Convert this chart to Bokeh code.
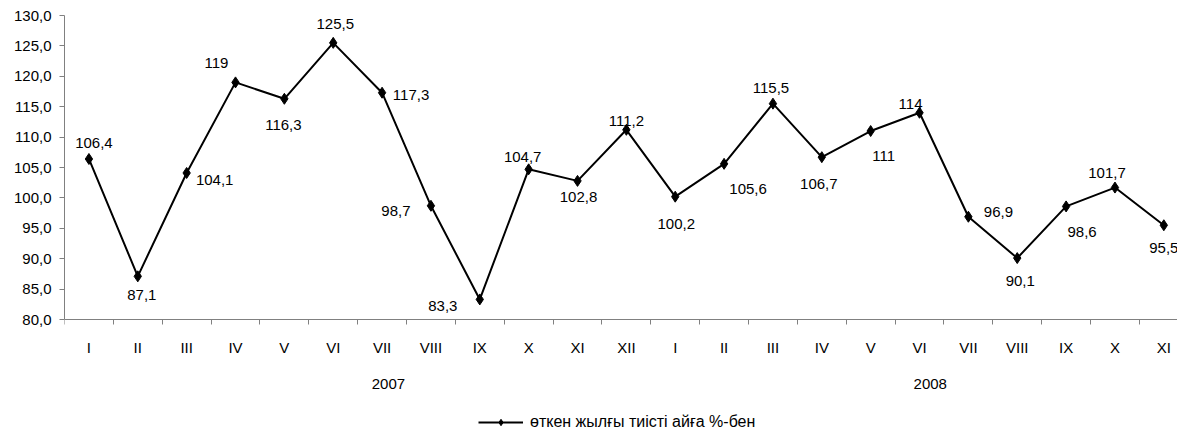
from bokeh.plotting import figure
from bokeh.models import (Range1d, FixedTicker, LinearAxis, Legend, LegendItem,
                          ColumnDataSource)
from bokeh.core.properties import value
from bokeh.embed import file_html
from bokeh.resources import INLINE

# ---- data ----
months = ["I", "II", "III", "IV", "V", "VI", "VII", "VIII", "IX", "X", "XI", "XII",
          "I", "II", "III", "IV", "V", "VI", "VII", "VIII", "IX", "X", "XI"]
values = [106.4, 87.1, 104.1, 119.0, 116.3, 125.5, 117.3, 98.7, 83.3, 104.7, 102.8, 111.2,
          100.2, 105.6, 115.5, 106.7, 111.0, 114.0, 96.9, 90.1, 98.6, 101.7, 95.5]
years = ["2007", "2008"]
series_name = "өткен жылғы тиісті айға %-бен"

# ---- layout helpers (label placement, px) ----
label_dx = [5, 4, 28, -19, -1, 2, 29, -35, -37, -6, 1, 0, 1, 24, -2, -3, 13, -9, 30, 3, 16, -8, 0]
label_dy = [-16, 19, 7, -19, 26, -19, 2, 5, 7, -12, 16, -9, 27, 25, -16, 27, 25, -9, -5, 23, 26, -15, 23]
year_pos = [6.63, 17.72]

FONT = "Liberation Sans"
FS = "15px"
AXIS_COLOR = "#808080"
Y_MIN, Y_MAX = 80, 130
PX_PER_UNIT = 304 / (Y_MAX - Y_MIN)
BELOW_PX = 115  # frame extends below the value axis to hold the legend

xs = [i + 0.5 for i in range(len(values))]
labels = [f"{v:g}".replace(".", ",") for v in values]

src = ColumnDataSource(dict(x=xs, y=values, lab=labels, dx=label_dx, dy=label_dy))

p = figure(frame_width=1113, frame_height=304 + BELOW_PX, output_backend="svg",
           toolbar_location=None,
           x_range=Range1d(0, 22.78),
           y_range=Range1d(Y_MIN - BELOW_PX / PX_PER_UNIT, Y_MAX),
           min_border_left=64, min_border_right=0, min_border_top=15, min_border_bottom=0,
           x_axis_type=None, y_axis_type=None)
p.outline_line_color = None
p.xgrid.visible = False
p.ygrid.visible = False
p.background_fill_color = "white"
p.border_fill_color = "white"

# y axis
yax = LinearAxis(ticker=FixedTicker(ticks=list(range(Y_MIN, Y_MAX + 1, 5))), bounds=(Y_MIN, Y_MAX))
yax.major_label_overrides = {t: f"{t:.1f}".replace(".", ",") for t in range(Y_MIN, Y_MAX + 1, 5)}
yax.axis_line_color = AXIS_COLOR
yax.major_tick_line_color = AXIS_COLOR
yax.major_tick_out = 5
yax.major_tick_in = 0
yax.minor_tick_line_color = None
yax.major_label_standoff = 8
yax.major_label_text_font = FONT
yax.major_label_text_font_size = FS
yax.major_label_text_color = "black"
p.add_layout(yax, "left")

# x axis: month labels at centres, ticks at category boundaries
xax = LinearAxis(ticker=FixedTicker(ticks=xs, minor_ticks=list(range(0, len(values) + 1))),
                 fixed_location=Y_MIN)
xax.major_label_overrides = {x: m for x, m in zip(xs, months)}
xax.axis_line_color = AXIS_COLOR
xax.major_tick_line_color = None
xax.major_tick_out = 0
xax.major_tick_in = 0
xax.minor_tick_line_color = AXIS_COLOR
xax.minor_tick_out = 5
xax.minor_tick_in = 0
xax.major_label_standoff = 14
xax.major_label_text_font = FONT
xax.major_label_text_font_size = FS
xax.major_label_text_color = "black"
p.add_layout(xax, "below")

# year axis
yrax = LinearAxis(ticker=FixedTicker(ticks=year_pos, minor_ticks=[]), fixed_location=Y_MIN)
yrax.major_label_overrides = {x: y for x, y in zip(year_pos, years)}
yrax.axis_line_color = None
yrax.major_tick_line_color = None
yrax.minor_tick_line_color = None
yrax.major_tick_out = 0
yrax.major_tick_in = 0
yrax.major_label_standoff = 59
yrax.major_label_text_font = FONT
yrax.major_label_text_font_size = FS
yrax.major_label_text_color = "black"
p.add_layout(yrax, "below")

# series
ln = p.line("x", "y", source=src, line_color="black", line_width=2)
mk = p.scatter("x", "y", source=src, marker="diamond", size=11, fill_color="black",
               line_color="black")

p.text("x", "y", text="lab", source=src, x_offset="dx", y_offset="dy",
       text_align="center", text_baseline="middle", text_font=value(FONT),
       text_font_size=FS, text_color="black")

legend = Legend(items=[LegendItem(label=series_name, renderers=[ln, mk])],
                location=(414, 3), orientation="horizontal",
                glyph_width=45, glyph_height=16, label_standoff=7, label_height=16,
                padding=0, margin=0, border_line_color=None,
                background_fill_alpha=0,
                label_text_font=FONT, label_text_font_size="16px", label_text_color="black")
p.add_layout(legend)

open("out.html", "w").write(file_html(p, INLINE))
